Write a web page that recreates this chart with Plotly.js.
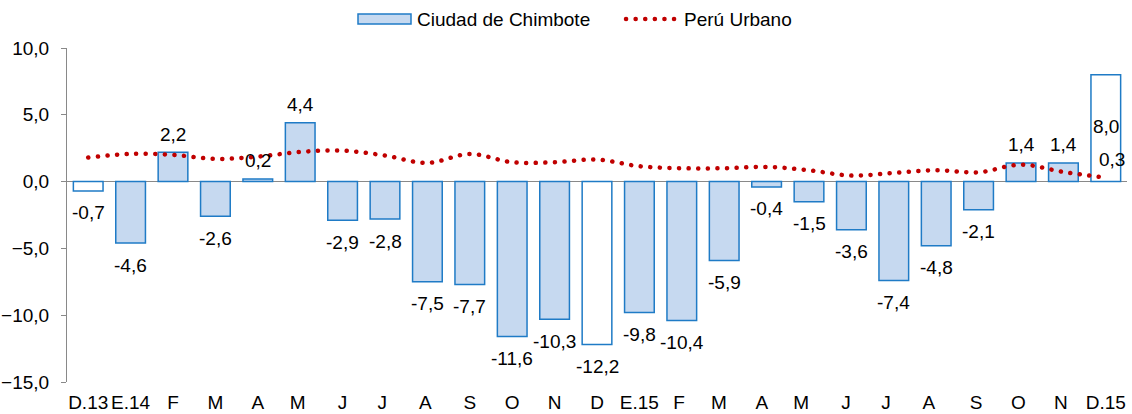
<!DOCTYPE html>
<html>
<head>
<meta charset="utf-8">
<script src="https://cdn.plot.ly/plotly-3.0.1.min.js"></script>
<style>
html,body{margin:0;padding:0;background:#fff;}
#chart{width:1132px;height:414px;}
</style>
</head>
<body>
<div id="chart"></div>
<script>
const categories = ["D.13","E.14","F","M","A","M ","J","J ","A ","S","O","N","D","E.15","F ","M  ","A  ","M   ","J  ","J   ","A   ","S ","O ","N ","D.15"];
const chimbote = [-0.7,-4.6,2.2,-2.6,0.2,4.4,-2.9,-2.8,-7.5,-7.7,-11.6,-10.3,-12.2,-9.8,-10.4,-5.9,-0.4,-1.5,-3.6,-7.4,-4.8,-2.1,1.4,1.4,8.0];
const peruUrbano = [1.8,2.07,2.0,1.7,1.87,2.22,2.32,1.95,1.4,2.07,1.45,1.45,1.65,1.15,1.0,1.0,1.1,0.85,0.45,0.65,0.85,0.7,1.27,0.72,0.3];
const decemberIdx = [0,12,24];

const fmt = v => v.toFixed(1).replace('.', ',');
const BAR_FILL = '#C6D9F0';
const barFill = chimbote.map((v,i) => decemberIdx.includes(i) ? '#FFFFFF' : BAR_FILL);
const FONT = 'Liberation Sans, Arial, sans-serif';
const FS = 19;

const traces = [
  {
    type: 'bar', name: 'Ciudad de Chimbote', x: categories, y: chimbote,
    marker: {color: barFill, line: {color: '#1F7BC6', width: 1.5}},
    width: 0.7, hoverinfo: 'none'
  },
  {
    type: 'scatter', mode: 'lines', name: 'Perú Urbano', x: categories, y: peruUrbano,
    line: {color: '#C00000', width: 4.5, dash: '0.1px,9.5px', shape: 'spline', smoothing: 1},
    hoverinfo: 'none'
  }
];

const annotations = chimbote.map((v,i) => {
  let shift = v >= 0 ? 18 : -22;
  if (i === chimbote.length - 1) shift = -52;
  return {x: categories[i], y: v, text: fmt(v), showarrow: false, yshift: shift,
          font: {family: FONT, size: FS, color: '#000'}};
});
const last = peruUrbano.length - 1;
annotations.push({x: categories[last], y: peruUrbano[last], text: fmt(peruUrbano[last]), showarrow: false,
  yshift: 18, xshift: 6, font: {family: FONT, size: FS, color: '#000'}});

const layout = {
  width: 1132, height: 414,
  margin: {l: 67, r: 5, t: 48, b: 32},
  paper_bgcolor: '#fff', plot_bgcolor: '#fff',
  separators: ',.',
  font: {family: FONT, size: FS, color: '#000'},
  showlegend: true,
  legend: {orientation: 'h', x: 347/1132, xanchor: 'left', xref: 'container', y: 0.954, yanchor: 'middle', yref: 'container',
           font: {size: FS}, traceorder: 'normal', bgcolor: 'rgba(0,0,0,0)', itemwidth: 60,
           entrywidth: 192, entrywidthmode: 'pixels'},
  xaxis: {
    type: 'category', showgrid: false, showline: false, zeroline: false,
    ticks: '', tickfont: {size: FS}, fixedrange: true, ticklabelstandoff: 7
  },
  yaxis: {
    range: [-15, 10], tickvals: [-15,-10,-5,0,5,10], tickformat: '.1f',
    showgrid: false, showline: true, linecolor: '#898989', linewidth: 1,
    ticks: 'outside', ticklen: 5, tickcolor: '#898989',
    zeroline: true, zerolinecolor: '#898989', zerolinewidth: 1.5,
    tickfont: {size: FS}, ticklabelstandoff: 8
  },
  annotations: annotations
};

Plotly.newPlot('chart', traces, layout, {staticPlot: true}).then(gd => {
  gd.querySelectorAll('.scatterlayer .js-line').forEach(p => p.style.strokeLinecap = 'round');
  const items = gd.querySelectorAll('.legend .traces');
  if (items[0]) {
    const p = items[0].querySelector('.legendpoints path');
    if (p) {
      p.setAttribute('d', 'M-24,-5H29V5H-24Z');
      p.style.fill = BAR_FILL;
      p.style.stroke = '#1F7BC6';
      p.style.strokeWidth = '1.5px';
    }
  }
  if (items[1]) {
    const p = items[1].querySelector('.legendlines path');
    if (p) {
      p.setAttribute('d', 'M12,0H65');
      p.style.strokeLinecap = 'round';
    }
  }
});
</script>
</body>
</html>
